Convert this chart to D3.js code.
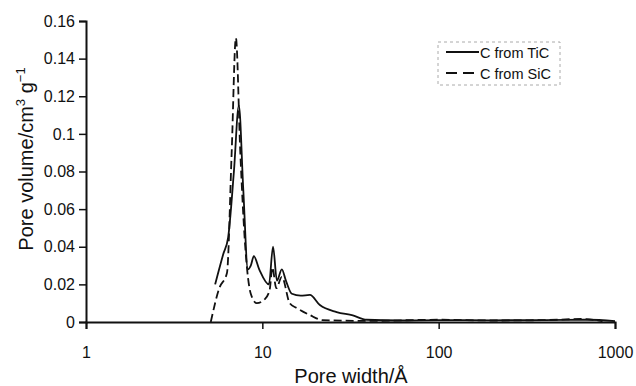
<!DOCTYPE html>
<html>
<head>
<meta charset="utf-8">
<script src="https://cdn.jsdelivr.net/npm/d3@7"></script>
<style>
body { margin: 0; background: #fff; }
text { font-family: "Liberation Sans", Arial, sans-serif; fill: #111; }
</style>
</head>
<body>
<div id="chart"></div>
<script>
// values
var tiX = [5.4, 6.0, 6.4, 6.9, 7.36, 7.8, 8.28, 8.6, 8.95, 9.6, 10.9, 11.5, 12.1, 12.9, 13.6, 14.7, 16.5, 18.6, 21.2, 26.4, 32.6, 39, 60, 100, 200, 400, 700, 1000];
var tiY = [0.020, 0.036, 0.045, 0.080, 0.115, 0.070, 0.028, 0.030, 0.035, 0.028, 0.020, 0.040, 0.022, 0.028, 0.022, 0.015, 0.014, 0.0144, 0.009, 0.0053, 0.0035, 0.0012, 0.0008, 0.001, 0.0009, 0.001, 0.0012, 0.0005];
var siX = [5.1, 5.7, 6.3, 6.7, 7.08, 7.5, 8.0, 8.6, 9.3, 10.3, 11.0, 11.4, 12.0, 12.9, 14.3, 15.7, 18.6, 22, 40, 100, 200, 400, 650, 850];
var siY = [0, 0.018, 0.026, 0.090, 0.151, 0.090, 0.040, 0.015, 0.010, 0.012, 0.017, 0.029, 0.018, 0.024, 0.010, 0.0074, 0.0037, 0.001, 0.0006, 0.0012, 0.0008, 0.001, 0.0016, 0.0005];
var xTicks = [1, 10, 100, 1000];
var yTicks = [0, 0.02, 0.04, 0.06, 0.08, 0.1, 0.12, 0.14, 0.16];
var yTickLabels = ["0", "0.02", "0.04", "0.06", "0.08", "0.1", "0.12", "0.14", "0.16"];
var seriesNames = ["C from TiC", "C from SiC"];

var W = 636, H = 386;
var m = {left: 86, right: 21, top: 21, bottom: 64};

var svg = d3.select("#chart").append("svg")
    .attr("width", W).attr("height", H);

var x = d3.scaleLog().domain([1, 1000]).range([m.left, W - m.right]);
var y = d3.scaleLinear().domain([0, 0.16]).range([H - m.bottom, m.top]);

// axes
var xa = svg.append("g").attr("transform", "translate(0," + y(0) + ")")
    .call(d3.axisBottom(x).tickValues(xTicks).tickFormat(d3.format("d")).tickSizeOuter(0).tickSize(7).tickPadding(18));
var ya = svg.append("g").attr("transform", "translate(" + m.left + ",0)")
    .call(d3.axisLeft(y).tickValues(yTicks).tickFormat(function(d, i){ return yTickLabels[i]; }).tickSizeOuter(0).tickSize(7).tickPadding(4));
[xa, ya].forEach(function(a){
    a.select(".domain").attr("stroke", "#111").attr("stroke-width", 2);
    a.selectAll(".tick line").attr("stroke", "#111").attr("stroke-width", 1.5);
    a.selectAll(".tick text").style("font-size", "16px").style("font-family", "Liberation Sans, Arial, sans-serif").attr("fill", "#111");
});

// axis titles
svg.append("text").attr("x", 351).attr("y", 383).attr("text-anchor", "middle")
    .style("font-size", "20px").text("Pore width/Å");
var yl = svg.append("text").attr("transform", "translate(33,159) rotate(-90)")
    .attr("text-anchor", "middle").style("font-size", "20px");
yl.append("tspan").text("Pore volume/cm");
yl.append("tspan").attr("dy", -8).style("font-size", "13px").text("3");
yl.append("tspan").attr("dy", 8).text(" g");
yl.append("tspan").attr("dy", -8).style("font-size", "13px").text("−1");

// curves
var line = d3.line()
    .x(function(d){ return x(d[0]); })
    .y(function(d){ return y(d[1]); })
    .curve(d3.curveMonotoneX);

svg.append("path").datum(d3.zip(tiX, tiY))
    .attr("d", line).attr("fill", "none").attr("stroke", "#111").attr("stroke-width", 1.8);
svg.append("path").datum(d3.zip(siX, siY))
    .attr("d", line).attr("fill", "none").attr("stroke", "#111").attr("stroke-width", 1.8)
    .attr("stroke-dasharray", "8,4");

// legend
var lg = svg.append("g").attr("transform", "translate(438,42)");
lg.append("rect").attr("width", 122).attr("height", 43)
    .attr("fill", "none").attr("stroke", "#aaa").attr("stroke-width", 1).attr("stroke-dasharray", "3,3");
seriesNames.forEach(function(name, i){
    var yy = 10 + i * 21;
    lg.append("line").attr("x1", 8).attr("x2", 41).attr("y1", yy).attr("y2", yy)
        .attr("stroke", "#111").attr("stroke-width", 1.8)
        .attr("stroke-dasharray", i === 1 ? "11,6" : null);
    lg.append("text").attr("x", 42).attr("y", yy + 5.5).style("font-size", "14.5px").text(name);
});
</script>
</body>
</html>
